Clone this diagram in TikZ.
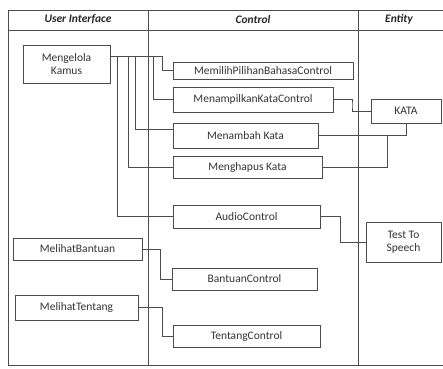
\documentclass[tikz,border=0pt]{standalone}
\usepackage{fontspec}
\setmainfont{Carlito}
\usetikzlibrary{
    calc,
    positioning
}
\tikzset{
    every picture/.style = {
        x = 1pt,
        y = -1pt,
        line width = 0.6pt
    },
    frame/.style = {
        draw = black!70,
        line width = 0.7pt
    },
    box/.style = {
        draw = black!70,
        inner sep = 1pt,
        outer sep = 0pt,
        align = center,
        text = black!80,
        font = \fontsize{11.5}{12.5}\selectfont
    },
    head/.style = {
        inner sep = 0pt,
        text = black!85,
        font = \fontsize{11.5}{12.5}\selectfont\bfseries\itshape
    },
    link/.style = {
        draw = black!70
    }
}

\begin{document}
\begin{tikzpicture}

    \useasboundingbox (0, 0) rectangle (443, 368);

    % table
    \draw[frame] (8, 10) -- (443, 10);
    \draw[frame] (8, 30) -- (443, 30);
    \draw[frame] (8, 365) -- (443, 365);
    \draw[frame] (8, 10) -- (8, 365);
    \draw[frame] (148, 10) -- (148, 365);
    \draw[frame] (358, 10) -- (358, 365);

    \node[head] (ui) at (78, 19.5) {User Interface};
    \node[head] (ctl) at (253, 19.5) {Control};
    \node[head] (ent) at (399, 19.5) {Entity};

    % boundary
    \node[box, minimum width = 87, minimum height = 38] (kamus) at (66.5, 64) {Mengelola\\Kamus};
    \node[box, minimum width = 129, minimum height = 22] (bantuan) at (77.5, 249) {MelihatBantuan};
    \node[box, minimum width = 123, minimum height = 25] (tentang) at (76.5, 307.5) {MelihatTentang};

    % control
    \node[box, minimum width = 180, minimum height = 17] (pilih) at (263, 70.5) {MemilihPilihanBahasaControl};
    \node[box, minimum width = 160, minimum height = 25] (tampil) at (253, 99.5) {MenampilkanKataControl};
    \node[box, minimum width = 145, minimum height = 25] (tambah) at (245.5, 135.5) {Menambah Kata};
    \node[box, minimum width = 149, minimum height = 22] (hapus) at (247.5, 167) {Menghapus Kata};
    \node[box, minimum width = 147, minimum height = 23] (audio) at (246.5, 216.5) {AudioControl};
    \node[box, minimum width = 145, minimum height = 22] (bantuanctl) at (244.5, 279) {BantuanControl};
    \node[box, minimum width = 147, minimum height = 22] (tentangctl) at (246.5, 336) {TentangControl};

    % entity
    \node[box, minimum width = 70, minimum height = 24] (kata) at (406, 111) {KATA};
    \node[box, minimum width = 75, minimum height = 40] (tts) at (403.5, 242) {Test To\\Speech};

    \coordinate (kout) at ([yshift = 8pt]kamus.east);
    \coordinate (hj) at (387, 135.5);

    \draw[link] (kout) -| ([xshift = -11pt]pilih.west) -- (pilih.west);
    \draw[link] (kout) -| ([xshift = -20pt]tampil.west) -- (tampil.west);
    \draw[link] (kout) -| ([xshift = -38pt, yshift = 6pt]tambah.west) -- ([yshift = 6pt]tambah.west);
    \draw[link] (kout) -| ([xshift = -45pt]hapus.west) -- (hapus.west);
    \draw[link] (kout) -| ([xshift = -56pt]audio.west) -- (audio.west);

    \draw[link] (tampil.east) -| ($(tampil.east)!0.5!(kata.west)$) |- (kata.west);
    \draw[link] (tambah.east) -| (kata.south);
    \draw[link] (hapus.east) -| (hj);
    \draw[link] (audio.east) -| ([xshift = -26pt]tts.west) -- (tts.west);

    \draw[link] (bantuan.east) -| ([xshift = -12pt]bantuanctl.west) -- (bantuanctl.west);
    \draw[link] (tentang.east) -| ([xshift = -11pt]tentangctl.west) -- (tentangctl.west);

\end{tikzpicture}
\end{document}
